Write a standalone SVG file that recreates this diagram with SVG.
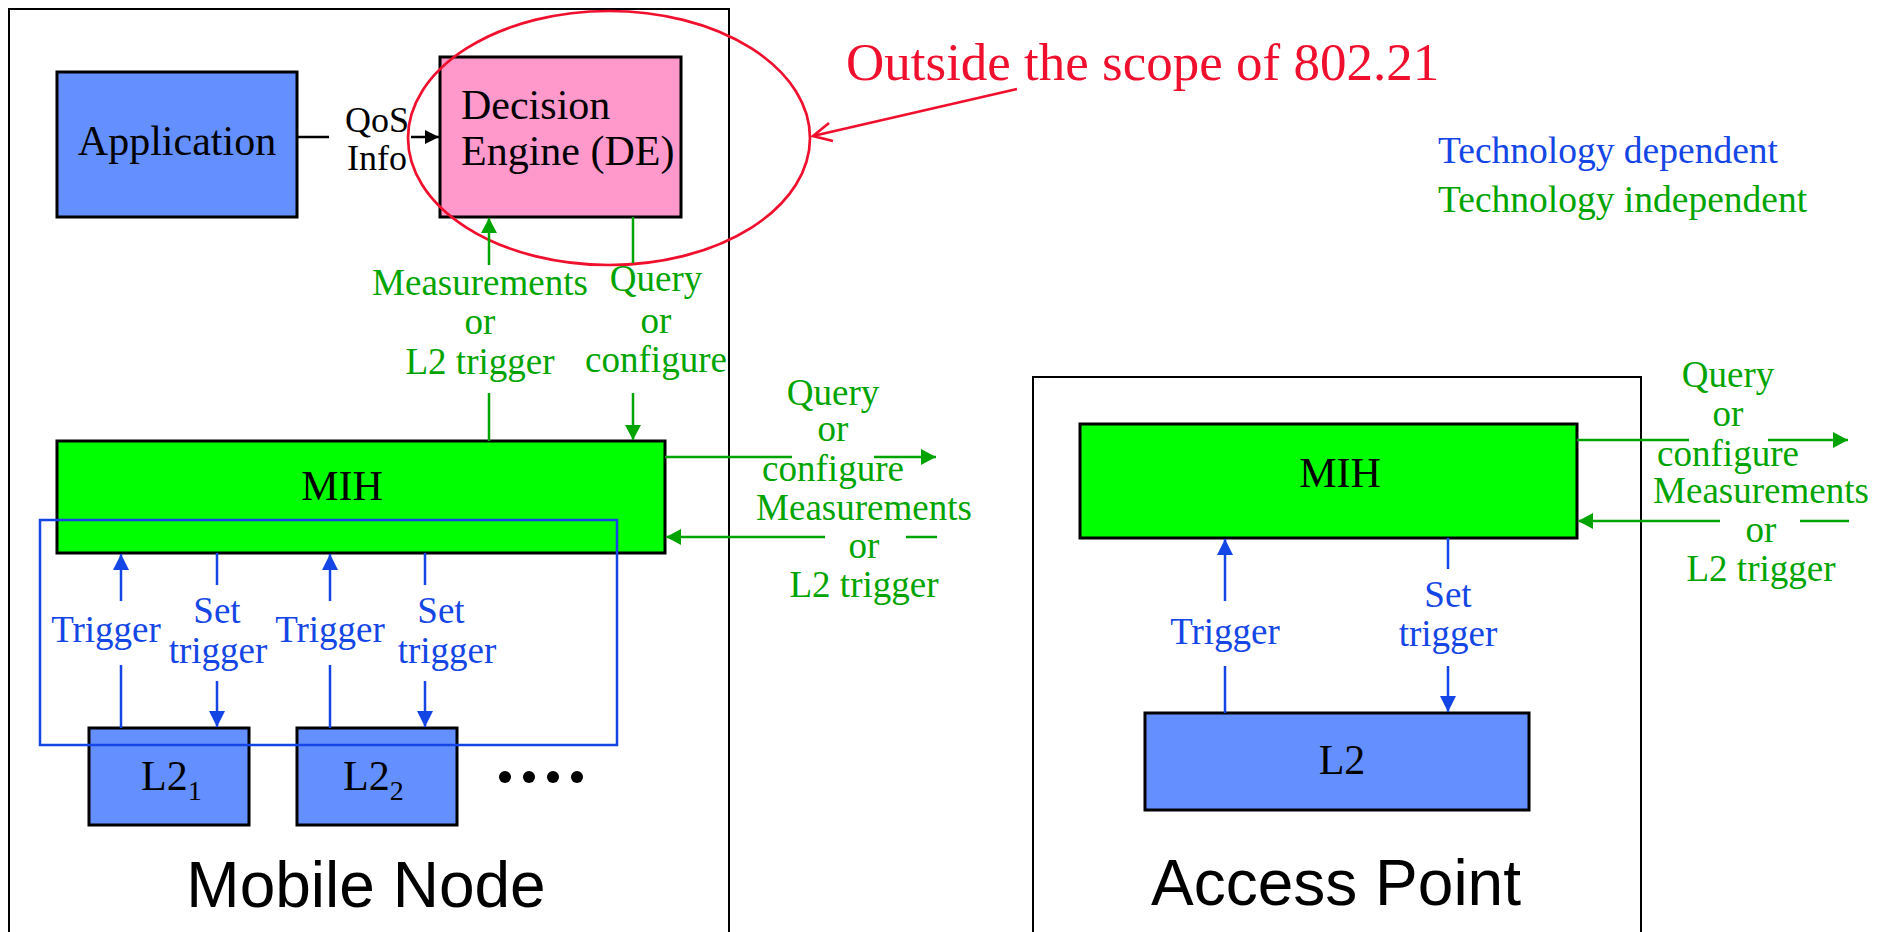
<svg xmlns="http://www.w3.org/2000/svg" width="1888" height="932" viewBox="0 0 1888 932">
  <style>
    text { font-family: "Liberation Serif", "Times New Roman", serif; }
    .frame { fill: none; stroke: #000; stroke-width: 2; }
    .box { stroke: #000; stroke-width: 3; }
    .l2 { fill: #6490FF; }
    .mih { fill: #00FF00; }
    .de { fill: #FF99CC; }
    .big { font-size: 42px; fill: #000; }
    .mid { text-anchor: middle; }
    .lbl { font-size: 37px; text-anchor: middle; }
    .g { fill: #00A400; }
    .b { fill: #1446E6; }
    .gl { stroke: #00A400; stroke-width: 2.5; fill: none; }
    .bl { stroke: #1446E6; stroke-width: 2.5; fill: none; }
    .kl { stroke: #000; stroke-width: 2.5; fill: none; }
    .red { stroke: #F0102E; stroke-width: 2.7; fill: none; }
    .sans { font-family: "Liberation Sans", Arial, sans-serif; font-size: 64px; text-anchor: middle; fill: #000; }
  </style>
  <defs>
    <marker id="ag" markerUnits="userSpaceOnUse" markerWidth="16" markerHeight="16" refX="15" refY="8" orient="auto">
      <path d="M0,0 L15,8 L0,16 Z" fill="#00A400"/>
    </marker>
    <marker id="ab" markerUnits="userSpaceOnUse" markerWidth="17" markerHeight="16" refX="16" refY="8" orient="auto">
      <path d="M0,0 L16,8 L0,16 Z" fill="#1446E6"/>
    </marker>
    <marker id="ak" markerUnits="userSpaceOnUse" markerWidth="15" markerHeight="14" refX="14" refY="7" orient="auto">
      <path d="M0,0 L14,7 L0,14 Z" fill="#000"/>
    </marker>
  </defs>

  <!-- Mobile Node frame -->
  <g id="mobile-node">
    <path class="frame" d="M9,945 V9 H729 V945"/>
    <text class="sans" x="366" y="907" font-size="65">Mobile Node</text>
  </g>

  <!-- Access Point frame -->
  <g id="access-point">
    <path class="frame" d="M1033,945 V377 H1641 V945"/>
    <text class="sans" x="1336" y="905">Access Point</text>
  </g>

  <g id="application">
    <rect class="box l2" x="57" y="72" width="240" height="145"/>
    <text class="big mid" x="177" y="155">Application</text>
  </g>

  <g id="decision-engine">
    <rect class="box de" x="440" y="57" width="241" height="160"/>
    <text class="big" x="461" y="119">Decision</text>
    <text class="big" x="461" y="165">Engine (DE)</text>
  </g>

  <g id="mn-mih">
    <rect class="box mih" x="57" y="441" width="608" height="112"/>
    <text class="big mid" x="342" y="500">MIH</text>
  </g>

  <g id="mn-l2-1">
    <rect class="box l2" x="89" y="728" width="160" height="97"/>
    <text class="big" x="141" y="790">L2<tspan font-size="28" dy="10">1</tspan></text>
  </g>

  <g id="mn-l2-2">
    <rect class="box l2" x="297" y="728" width="160" height="97"/>
    <text class="big" x="343" y="790">L2<tspan font-size="28" dy="10">2</tspan></text>
  </g>

  <g id="more-l2">
    <circle cx="505" cy="777" r="6"/>
    <circle cx="529" cy="777" r="6"/>
    <circle cx="553" cy="777" r="6"/>
    <circle cx="577" cy="777" r="6"/>
  </g>

  <!-- technology dependent boundary -->
  <g id="tech-dependent-boundary">
    <rect class="bl" x="40" y="520" width="577" height="225"/>
  </g>

  <g id="ap-mih">
    <rect class="box mih" x="1080" y="424" width="497" height="114"/>
    <text class="big mid" x="1340" y="487">MIH</text>
  </g>

  <g id="ap-l2">
    <rect class="box l2" x="1145" y="713" width="384" height="97"/>
    <text class="big mid" x="1342" y="774">L2</text>
  </g>

  <!-- scope annotation -->
  <g id="scope-note">
    <ellipse class="red" cx="609" cy="138" rx="201" ry="127"/>
    <path class="red" d="M1017,89 L813,136 M829,123 L813,136 L833,141"/>
    <text x="846" y="80" font-size="53" fill="#F0102E">Outside the scope of 802.21</text>
  </g>

  <g id="legend">
    <text x="1438" y="163" font-size="37.5" class="b">Technology dependent</text>
    <text x="1438" y="212" font-size="37.5" class="g">Technology independent</text>
  </g>

  <g id="connectors">
    <!-- Application to DE -->
    <path class="kl" d="M297,137 H329"/>
    <path class="kl" d="M411,137 H439" marker-end="url(#ak)"/>
    <text x="377" y="132" font-size="36" text-anchor="middle">QoS</text>
    <text x="377" y="170" font-size="36" text-anchor="middle">Info</text>

    <!-- MIH to DE -->
    <path class="gl" d="M489,265 V218" marker-end="url(#ag)"/>
    <path class="gl" d="M489,393 V441"/>
    <text class="lbl g" x="480" y="295">Measurements</text>
    <text class="lbl g" x="480" y="334">or</text>
    <text class="lbl g" x="480" y="374">L2 trigger</text>

    <!-- DE to MIH -->
    <path class="gl" d="M633,217 V263"/>
    <path class="gl" d="M633,393 V440" marker-end="url(#ag)"/>
    <text class="lbl g" x="656" y="291">Query</text>
    <text class="lbl g" x="656" y="333">or</text>
    <text class="lbl g" x="656" y="372">configure</text>

    <!-- MN L2s and MIH -->
    <path class="bl" d="M121,601 V554" marker-end="url(#ab)"/>
    <path class="bl" d="M121,665 V728"/>
    <text class="lbl b" x="106" y="642">Trigger</text>
    <path class="bl" d="M217,553 V585"/>
    <path class="bl" d="M217,681 V727" marker-end="url(#ab)"/>
    <text class="lbl b" x="217" y="623">Set</text>
    <text class="lbl b" x="218" y="663">trigger</text>

    <path class="bl" d="M330,601 V554" marker-end="url(#ab)"/>
    <path class="bl" d="M330,665 V728"/>
    <text class="lbl b" x="330" y="642">Trigger</text>
    <path class="bl" d="M425,553 V585"/>
    <path class="bl" d="M425,681 V727" marker-end="url(#ab)"/>
    <text class="lbl b" x="441" y="623">Set</text>
    <text class="lbl b" x="447" y="663">trigger</text>

    <!-- MN MIH to remote -->
    <path class="gl" d="M665,457 H792"/>
    <path class="gl" d="M874,457 H936" marker-end="url(#ag)"/>
    <text class="lbl g" x="833" y="405">Query</text>
    <text class="lbl g" x="833" y="441">or</text>
    <text class="lbl g" x="833" y="481">configure</text>
    <path class="gl" d="M906,537 H937"/>
    <path class="gl" d="M825,537 H666" marker-end="url(#ag)"/>
    <text class="lbl g" x="864" y="520">Measurements</text>
    <text class="lbl g" x="864" y="558">or</text>
    <text class="lbl g" x="864" y="597">L2 trigger</text>

    <!-- AP L2 and MIH -->
    <path class="bl" d="M1225,601 V539" marker-end="url(#ab)"/>
    <path class="bl" d="M1225,666 V713"/>
    <text class="lbl b" x="1225" y="644">Trigger</text>
    <path class="bl" d="M1448,538 V569"/>
    <path class="bl" d="M1448,666 V712" marker-end="url(#ab)"/>
    <text class="lbl b" x="1448" y="607">Set</text>
    <text class="lbl b" x="1448" y="646">trigger</text>

    <!-- AP MIH to remote -->
    <path class="gl" d="M1577,440 H1689"/>
    <path class="gl" d="M1768,440 H1848" marker-end="url(#ag)"/>
    <text class="lbl g" x="1728" y="387">Query</text>
    <text class="lbl g" x="1728" y="426">or</text>
    <text class="lbl g" x="1728" y="466">configure</text>
    <path class="gl" d="M1800,521 H1849"/>
    <path class="gl" d="M1720,521 H1578" marker-end="url(#ag)"/>
    <text class="lbl g" x="1761" y="503">Measurements</text>
    <text class="lbl g" x="1761" y="542">or</text>
    <text class="lbl g" x="1761" y="581">L2 trigger</text>
  </g>
</svg>
